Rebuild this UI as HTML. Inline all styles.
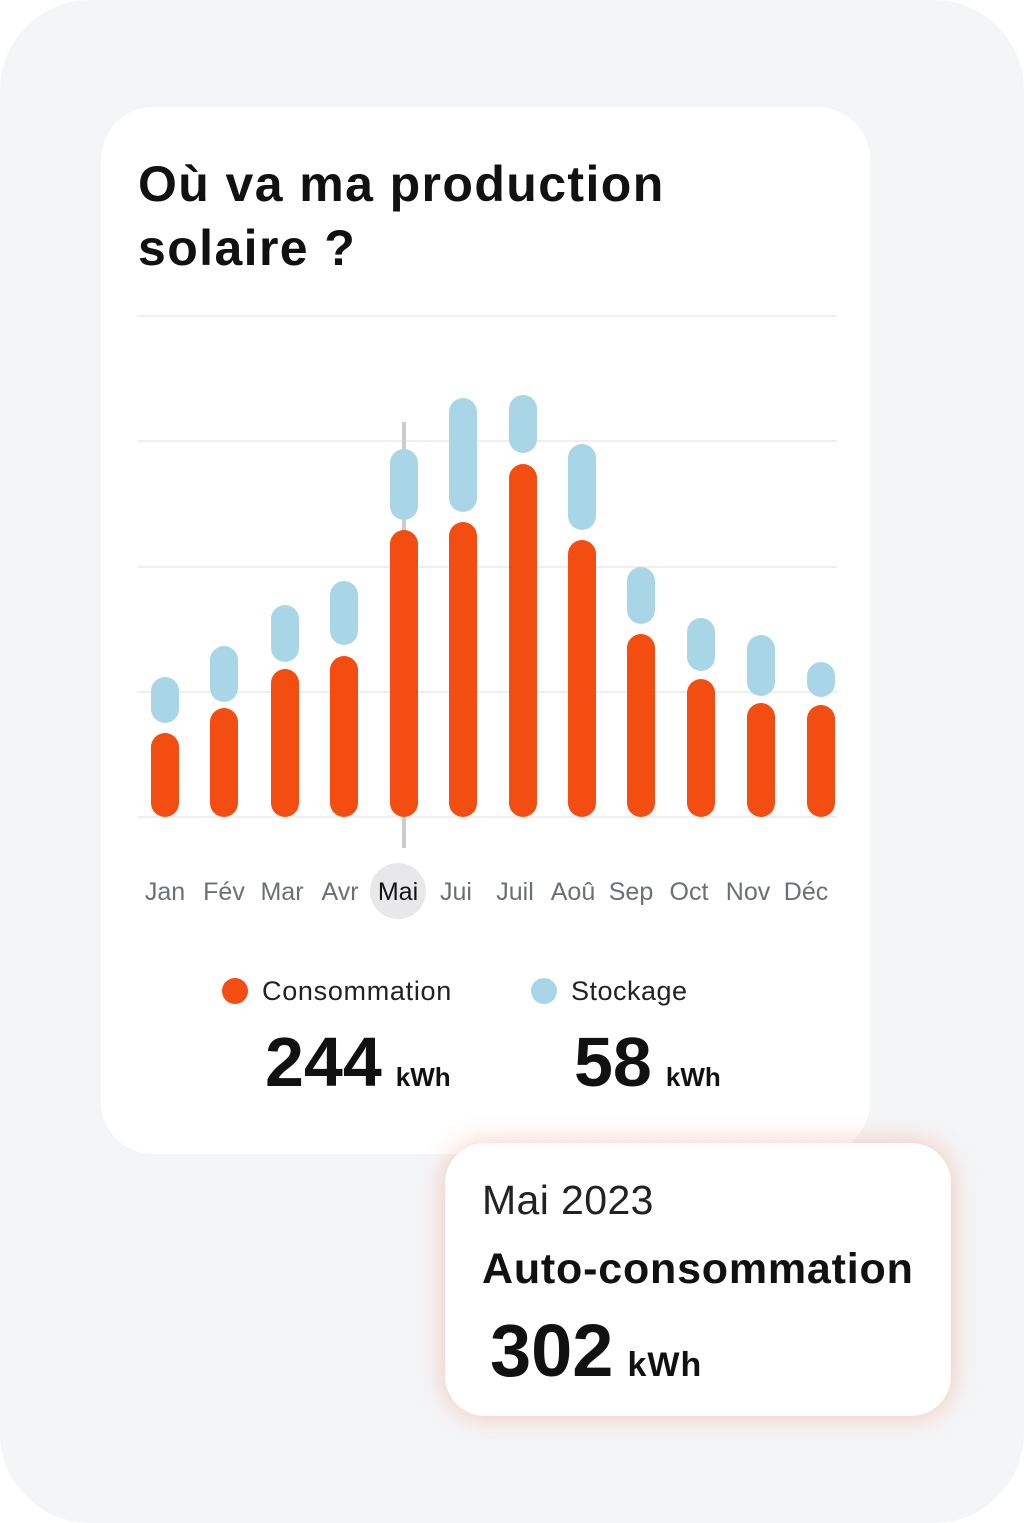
<!DOCTYPE html>
<html><head><meta charset="utf-8"><style>
body{margin:0;width:1024px;height:1523px;background:#fff;position:relative;overflow:hidden;font-family:"Liberation Sans",sans-serif;}
.bg{position:absolute;left:0;top:0;width:1024px;height:1523px;background:#f4f5f7;border-radius:90px;}
.card{position:absolute;left:101px;top:107px;width:769px;height:1047px;background:#fff;border-radius:52px;}
h1{position:absolute;left:138px;top:152px;margin:0;font-size:50px;line-height:64px;font-weight:bold;color:#111;letter-spacing:1.4px;}
.tip{position:absolute;left:445px;top:1143px;width:506px;height:273px;background:#fff;border-radius:40px;box-shadow:0 0 26px rgba(240,110,70,0.35);}
.t{position:absolute;color:#111;white-space:nowrap;}
</style></head><body>
<div class="bg"></div>
<div class="card"></div>
<h1>Où va ma production<br>solaire ?</h1>
<svg style="position:absolute;left:0;top:0" width="1024" height="1523">
<g stroke="#e9eaec" stroke-width="1.5">
<line x1="137" x2="837" y1="316" y2="316"/><line x1="137" x2="837" y1="441" y2="441"/><line x1="137" x2="837" y1="567" y2="567"/><line x1="137" x2="837" y1="692" y2="692"/><line x1="137" x2="837" y1="817" y2="817"/>
</g>
<line x1="404" x2="404" y1="422" y2="848" stroke="#ccc" stroke-width="4"/>
<g stroke-linecap="round" stroke-width="28">
<g stroke="#f44d12">
<line x1="165" x2="165" y1="747" y2="803"/><line x1="224" x2="224" y1="722" y2="803"/><line x1="285" x2="285" y1="683" y2="803"/><line x1="344" x2="344" y1="670" y2="803"/><line x1="404" x2="404" y1="544" y2="803"/><line x1="463" x2="463" y1="536" y2="803"/><line x1="523" x2="523" y1="478" y2="803"/><line x1="582" x2="582" y1="554" y2="803"/><line x1="641" x2="641" y1="648" y2="803"/><line x1="701" x2="701" y1="693" y2="803"/><line x1="761" x2="761" y1="717" y2="803"/><line x1="821" x2="821" y1="719" y2="803"/>
</g>
<g stroke="#a9d6e6">
<line x1="165" x2="165" y1="691" y2="709"/><line x1="224" x2="224" y1="660" y2="688"/><line x1="285" x2="285" y1="619" y2="648"/><line x1="344" x2="344" y1="595" y2="631"/><line x1="404" x2="404" y1="463" y2="506"/><line x1="463" x2="463" y1="412" y2="498"/><line x1="523" x2="523" y1="409" y2="439"/><line x1="582" x2="582" y1="458" y2="516"/><line x1="641" x2="641" y1="581" y2="610"/><line x1="701" x2="701" y1="632" y2="657"/><line x1="761" x2="761" y1="649" y2="682"/><line x1="821" x2="821" y1="676" y2="683"/>
</g></g>
<circle cx="398" cy="891" r="28" fill="#e8e8ea"/>
<g font-family="Liberation Sans" font-size="25" fill="#6b6f76" text-anchor="middle">
<text x="165" y="900">Jan</text><text x="224" y="900">Fév</text><text x="282" y="900">Mar</text><text x="340" y="900">Avr</text><text x="398" y="900" fill="#111">Mai</text><text x="456" y="900">Jui</text><text x="515" y="900">Juil</text><text x="573" y="900">Aoû</text><text x="631" y="900">Sep</text><text x="689" y="900">Oct</text><text x="748" y="900">Nov</text><text x="806" y="900">Déc</text>
</g>
<circle cx="235" cy="991" r="13" fill="#f44d12"/><circle cx="544" cy="991" r="13" fill="#a9d6e6"/>
</svg>
<div class="t" style="left:262px;top:976px;font-size:27px;color:#222;letter-spacing:0.7px">Consommation</div>
<div class="t" style="left:571px;top:976px;font-size:27px;color:#222;letter-spacing:0.5px">Stockage</div>
<div class="t" style="left:265px;top:1022px;font-size:70px;font-weight:bold">244<span style="font-size:26px;margin-left:14px">kWh</span></div>
<div class="t" style="left:574px;top:1022px;font-size:70px;font-weight:bold">58<span style="font-size:26px;margin-left:14px">kWh</span></div>
<div class="tip"></div>
<div class="t" style="left:482px;top:1177px;font-size:41px;color:#222;letter-spacing:0.4px">Mai 2023</div>
<div class="t" style="left:482px;top:1245px;font-size:43px;font-weight:bold;letter-spacing:0.8px">Auto-consommation</div>
<div class="t" style="left:490px;top:1308px;font-size:74px;font-weight:bold">302<span style="font-size:34px;margin-left:14px;letter-spacing:1px">kWh</span></div>
</body></html>
